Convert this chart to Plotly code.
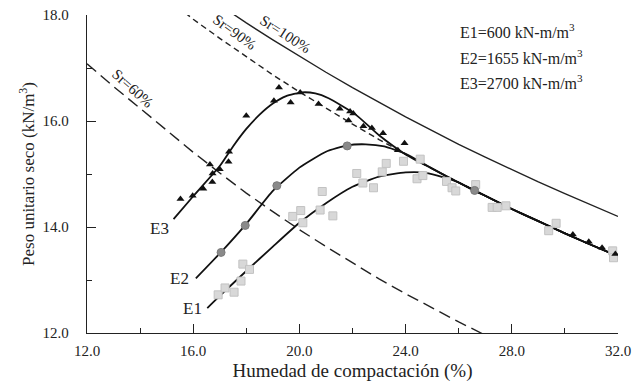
import plotly.graph_objects as go

# ---- data ----
# E3 (triangles)
e3_w = [15.52, 15.98, 16.38, 16.72, 16.73, 17.0, 16.63, 17.33, 17.35, 18.0, 19.04, 19.23, 19.67,
        20.03, 20.72, 21.52, 21.91, 22.03, 21.85, 22.41, 22.73, 23.15, 23.71, 23.96,
        30.3, 30.9, 31.4, 31.9]
e3_y = [14.53, 14.59, 14.72, 14.85, 15.01, 15.09, 15.18, 15.23, 15.42, 16.1, 16.38, 16.63, 16.35,
        16.54, 16.32, 16.23, 16.18, 16.14, 16.01, 15.9, 15.87, 15.77, 15.45, 15.58,
        13.86, 13.72, 13.61, 13.49]
# E2 (circles)
e2_w = [17.05, 17.96, 19.15, 21.8, 26.6]
e2_y = [13.52, 14.03, 14.78, 15.53, 14.69]
# E1 (squares)
e1_w = [16.94, 17.2, 17.54, 17.8, 17.87, 18.12, 19.75, 20.05, 20.13, 20.78, 20.86, 21.26, 22.16,
        22.39, 22.79, 23.12, 23.27, 23.92, 24.55, 24.43, 24.65, 25.54, 25.75, 25.89, 26.64,
        27.26, 27.45, 27.78, 29.39, 29.67, 31.8, 31.83]
e1_y = [12.72, 12.85, 12.77, 12.98, 13.3, 13.2, 14.2, 14.31, 14.08, 14.32, 14.67, 14.21, 15.01,
        14.83, 14.74, 15.04, 15.2, 15.24, 15.28, 14.91, 14.97, 14.86, 14.74, 14.68, 14.8,
        14.37, 14.37, 14.4, 13.93, 14.07, 13.55, 13.42]

# fitted compaction curves
e3c_w = [15.26, 16, 17, 17.5, 18, 18.5, 19, 19.5, 20.1, 20.6, 21.1, 22.1, 23.0, 24, 25, 26, 27, 28, 29, 30, 31, 32]
e3c_y = [14.15, 14.58, 15.15, 15.52, 15.85, 16.12, 16.33, 16.47, 16.54, 16.52, 16.43, 16.13, 15.73, 15.37, 15.1, 14.84, 14.59, 14.34, 14.11, 13.88, 13.66, 13.45]
e2c_w = [16.1, 17, 18, 19, 20, 21, 21.8, 22.5, 23.2, 24, 24.8, 25.6, 26.5, 27, 28, 29, 30, 31, 32]
e2c_y = [13.03, 13.5, 14.06, 14.68, 15.12, 15.42, 15.54, 15.56, 15.52, 15.38, 15.16, 14.94, 14.71, 14.59, 14.34, 14.11, 13.88, 13.66, 13.45]
e1c_w = [16.53, 17, 18, 19, 20, 21, 22, 23, 24, 24.6, 25.2, 26, 26.5, 27, 28, 29, 30, 31, 32]
e1c_y = [12.47, 12.7, 13.17, 13.63, 14.08, 14.45, 14.76, 14.95, 15.03, 15.03, 14.97, 14.84, 14.71, 14.59, 14.34, 14.11, 13.88, 13.66, 13.45]

# saturation lines
sr100_w = [17.5, 18, 19, 20, 21, 22, 23, 24, 25, 26, 27, 28, 29, 30, 31, 32]
sr100_y = [18.02, 17.85, 17.53, 17.22, 16.92, 16.63, 16.35, 16.08, 15.82, 15.56, 15.32, 15.08, 14.85, 14.63, 14.41, 14.2]
sr90_w = [15.7, 16, 17, 18, 19, 20, 21, 22, 23, 24, 25, 26, 27, 28, 29, 30, 31, 32]
sr90_y = [18.04, 17.92, 17.56, 17.21, 16.87, 16.55, 16.24, 15.94, 15.65, 15.37, 15.1, 14.84, 14.59, 14.34, 14.11, 13.88, 13.66, 13.45]
sr60_w = [12, 13, 14, 15, 16, 17, 18, 19, 20, 21, 22, 23, 24, 25, 26, 27]
sr60_y = [17.08, 16.65, 16.24, 15.83, 15.41, 15.02, 14.64, 14.29, 13.95, 13.63, 13.32, 13.02, 12.74, 12.47, 12.21, 11.96]

x_ticks = [12, 16, 20, 24, 28, 32]
y_ticks = [12, 14, 16, 18]

FONT = "Liberation Serif, Times New Roman, serif"

fig = go.Figure()

fig.add_trace(go.Scatter(x=sr100_w, y=sr100_y, mode="lines", line=dict(color="#222", width=1.4)))
fig.add_trace(go.Scatter(x=sr90_w, y=sr90_y, mode="lines", line=dict(color="#222", width=1.4, dash="6px,4px")))
fig.add_trace(go.Scatter(x=sr60_w, y=sr60_y, mode="lines", line=dict(color="#222", width=1.4, dash="12px,6px")))

for cw, cy in [(e3c_w, e3c_y), (e2c_w, e2c_y), (e1c_w, e1c_y)]:
    fig.add_trace(go.Scatter(x=cw, y=cy, mode="lines", line=dict(color="#111", width=1.8, shape="spline", smoothing=0.5)))

fig.add_trace(go.Scatter(x=e1_w, y=e1_y, mode="markers",
                         marker=dict(symbol="square", size=8, color="#d8d8d8", line=dict(color="#c2c2c2", width=1))))
fig.add_trace(go.Scatter(x=e2_w, y=e2_y, mode="markers",
                         marker=dict(symbol="circle", size=8, color="#8a8a8a", line=dict(color="#7a7a7a", width=1))))
fig.add_trace(go.Scatter(x=e3_w, y=e3_y, mode="markers",
                         marker=dict(symbol="triangle-up", size=7, color="#111")))

ann = []
def txt(x, y, s, size=16, angle=0, xanchor="center", xref="x", yref="y"):
    ann.append(dict(x=x, y=y, xref=xref, yref=yref, text=s, showarrow=False, textangle=angle,
                    xanchor=xanchor, yanchor="middle", font=dict(family=FONT, size=size, color="#222")))

txt(19.46, 17.64, "Sr=100%", 15, 33)
txt(17.55, 17.68, "Sr=90%", 15, 36)
txt(13.7, 16.62, "Sr=60%", 15, 42)
txt(14.74, 13.98, "E3", 17)
txt(15.5, 13.03, "E2", 17)
txt(15.98, 12.46, "E1", 17)
txt(458, 31, "E1=600 kN-m/m<sup>3</sup>", 16, 0, "left", "paper", "paper")
txt(458, 57, "E2=1655 kN-m/m<sup>3</sup>", 16, 0, "left", "paper", "paper")
txt(458, 82, "E3=2700 kN-m/m<sup>3</sup>", 16, 0, "left", "paper", "paper")

# convert pixel-placed paper annotations
L, R, T, B = 87, 24, 15, 55
W, H = 642, 388
for a in ann:
    if a["xref"] == "paper":
        a["x"] = (a["x"] - L) / (W - L - R)
        a["y"] = 1 - (a["y"] - T) / (H - T - B)

fig.update_layout(
    width=W, height=H, margin=dict(l=L, r=R, t=T, b=B, autoexpand=False),
    paper_bgcolor="white", plot_bgcolor="white", showlegend=False,
    font=dict(family=FONT, size=15, color="#222"),
    annotations=ann,
    xaxis=dict(range=[12, 32], tickvals=x_ticks, tickformat=".1f", ticks="inside", ticklen=9,
               tickwidth=1.4, tickcolor="#222", showline=True, linecolor="#222", linewidth=1.4,
               showgrid=False, zeroline=False, ticklabelstandoff=4, automargin=False,
               minor=dict(ticks="inside", ticklen=5, tickvals=[14, 18, 22, 26, 30], tickcolor="#222", tickwidth=1.4),
               title=dict(text="Humedad de compactación (%)", font=dict(size=19), standoff=5),
               tickfont=dict(size=15)),
    yaxis=dict(range=[12, 18], tickvals=y_ticks, tickformat=".1f", ticks="inside", ticklen=9,
               tickwidth=1.4, tickcolor="#222", showline=True, linecolor="#222", linewidth=1.4,
               showgrid=False, zeroline=False, ticklabelstandoff=14, automargin=False,
               minor=dict(ticks="inside", ticklen=5, tickvals=[13, 15, 17], tickcolor="#222", tickwidth=1.4),
               title=dict(text="Peso unitario seco (kN/m<sup>3</sup>)", font=dict(size=17), standoff=3),
               tickfont=dict(size=15)),
)

fig.write_html("out.html")
